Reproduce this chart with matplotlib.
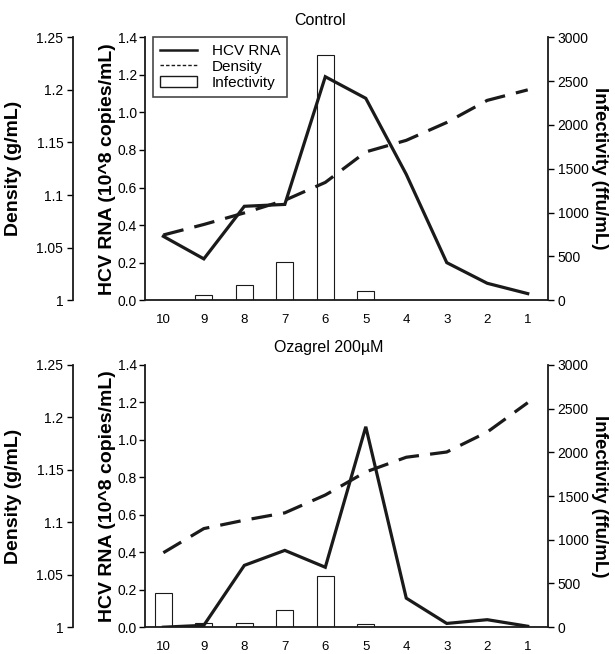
import numpy as np
import matplotlib.pyplot as plt
from matplotlib.lines import Line2D
from matplotlib.patches import Patch

fractions = ['10', '9', '8', '7', '6', '5', '4', '3', '2', '1']

# Control
ctrl_rna = [0.34, 0.22, 0.50, 0.51, 1.19, 1.075, 0.67, 0.20, 0.09, 0.035]
ctrl_density = [1.062, 1.072, 1.083, 1.095, 1.112, 1.141, 1.152, 1.169, 1.190, 1.200]
ctrl_infect = [0, 60, 170, 440, 2800, 100, 0, 0, 0, 0]

# Ozagrel 200uM
oza_rna = [0.0, 0.01, 0.33, 0.41, 0.32, 1.07, 0.155, 0.02, 0.04, 0.005]
oza_density = [1.071, 1.094, 1.102, 1.109, 1.126, 1.148, 1.162, 1.167, 1.186, 1.214]
oza_infect = [390, 45, 45, 200, 590, 35, 0, 0, 0, 0]

titles = ['Control', 'Ozagrel 200\u00b5M']

ink = '#1a1a1a'
plt.rcParams['font.family'] = 'Liberation Sans'

fig = plt.figure(figsize=(6.15, 6.54), dpi=100)


def panel(rect, title, title_x, rna, dens, inf, legend=False):
    x = np.arange(len(fractions))
    ax = fig.add_axes(rect)
    ax_inf = ax.twinx()
    ax_den = ax.twinx()

    # bars behind the RNA line
    ax.set_zorder(ax_inf.get_zorder() + 1)
    ax.patch.set_visible(False)
    ax_den.set_zorder(ax.get_zorder() + 1)

    ax_inf.bar(x, inf, width=0.42, facecolor='white', edgecolor=ink, linewidth=0.8)
    ax.plot(x, rna, color=ink, lw=2.3, solid_joinstyle='miter')
    ax_den.plot(x, dens, color=ink, lw=2.3, dashes=(6.5, 3.5))

    ax.set_xlim(-0.45, 9.5)
    ax.set_ylim(0, 1.4)
    ax_inf.set_ylim(0, 3000)
    ax_den.set_ylim(1, 1.25)

    ax.set_xticks(x)
    ax.set_xticklabels(fractions)
    ax.tick_params(axis='x', length=0, pad=10, labelsize=9.5)
    ax.set_yticks(np.arange(0, 1.41, 0.2))
    ax.set_yticklabels(['%.1f' % v for v in np.arange(0, 1.41, 0.2)])
    ax.tick_params(axis='y', direction='out', length=4, width=1, labelsize=10, pad=2)

    ax_inf.set_yticks(np.arange(0, 3001, 500))
    ax_inf.tick_params(axis='y', direction='out', length=4, width=1, labelsize=10, pad=3)
    ax_inf.set_ylabel('Infectivity (ffu/mL)', rotation=270, fontsize=13.5,
                      fontweight='bold', labelpad=14)

    ax_den.spines['left'].set_position(('axes', -0.179))
    ax_den.spines['left'].set_visible(True)
    ax_den.spines['right'].set_visible(False)
    ax_den.yaxis.set_ticks_position('left')
    ax_den.yaxis.set_label_position('left')
    ax_den.set_yticks([1, 1.05, 1.1, 1.15, 1.2, 1.25])
    ax_den.set_yticklabels(['1', '1.05', '1.1', '1.15', '1.2', '1.25'])
    ax_den.tick_params(axis='y', direction='out', length=4, width=1, labelsize=10, pad=3)
    ax_den.set_ylabel('Density (g/mL)', fontsize=14, fontweight='bold', labelpad=10)

    ax.set_ylabel('HCV RNA (10^8 copies/mL)', fontsize=14, fontweight='bold', labelpad=1)

    for a in (ax, ax_inf, ax_den):
        a.spines['top'].set_visible(False)
        for s in a.spines.values():
            s.set_linewidth(1.3)
            s.set_color(ink)
    ax.spines['right'].set_visible(False)
    ax_inf.spines['left'].set_visible(False)
    ax_den.spines['bottom'].set_visible(False)
    ax_inf.spines['bottom'].set_visible(False)

    ax.set_title(title, fontsize=11.5, pad=9, x=title_x)

    if legend:
        handles = [Line2D([], [], color=ink, lw=1.8),
                   Line2D([], [], color=ink, lw=1.0, dashes=(2.5, 1.5)),
                   Patch(facecolor='white', edgecolor=ink, linewidth=1.0)]
        leg = ax_den.legend(handles, ['HCV RNA', 'Density', 'Infectivity'],
                            loc='upper left', bbox_to_anchor=(0.02, 1.0),
                            borderaxespad=0, fontsize=11, frameon=True,
                            fancybox=False, handlelength=2.4, handleheight=0.8,
                            labelspacing=0.1, borderpad=0.45, handletextpad=1.0)
        leg.get_frame().set_edgecolor(ink)
        leg.get_frame().set_linewidth(1.2)


panel([0.236, 0.541, 0.655, 0.402], titles[0], 0.434, ctrl_rna, ctrl_density, ctrl_infect,
      legend=True)
panel([0.236, 0.041, 0.655, 0.401], titles[1], 0.457, oza_rna, oza_density, oza_infect)

fig.savefig('out.png', dpi=100, facecolor='white')
